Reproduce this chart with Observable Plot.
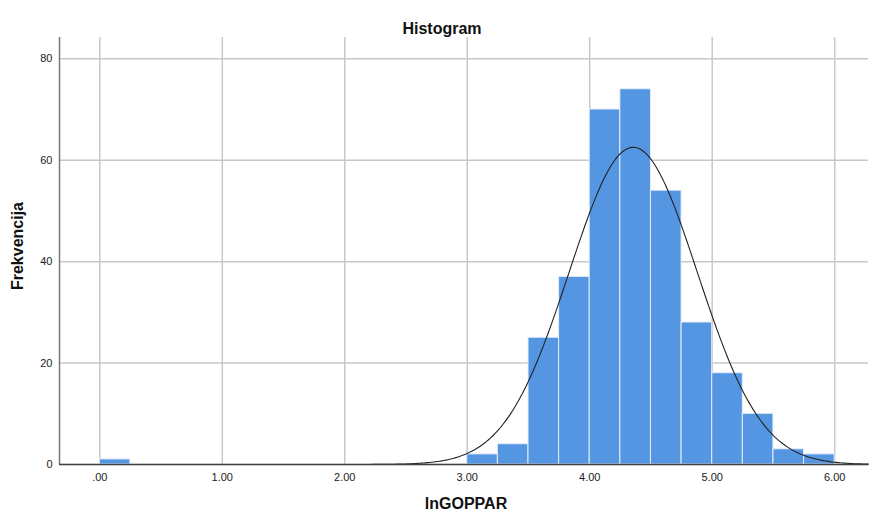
<!DOCTYPE html>
<html>
<head>
<meta charset="utf-8">
<script src="https://cdn.jsdelivr.net/npm/d3@7"></script>
<script src="https://cdn.jsdelivr.net/npm/@observablehq/plot@0.6"></script>
<style>
  html, body { margin: 0; padding: 0; background: #fff; }
  svg { display: block; }
</style>
</head>
<body>
<div id="chart"></div>
<script>
// Histogram bins (lower edge, upper edge, count)
const binStart = [0.00, 3.00, 3.25, 3.50, 3.75, 4.00, 4.25, 4.50, 4.75, 5.00, 5.25, 5.50, 5.75];
const binEnd   = [0.25, 3.25, 3.50, 3.75, 4.00, 4.25, 4.50, 4.75, 5.00, 5.25, 5.50, 5.75, 6.00];
const counts   = [1, 2, 4, 25, 37, 70, 74, 54, 28, 18, 10, 3, 2];

// Normal curve parameters (as shown by SPSS)
const mean = 4.355;
const sd = 0.523;
const binWidth = 0.25;

const xTicks = [0, 1, 2, 3, 4, 5, 6];
const xTickLabels = [".00", "1.00", "2.00", "3.00", "4.00", "5.00", "6.00"];
const yTicks = [0, 20, 40, 60, 80];

const bins = binStart.map((s, i) => ({x1: s, x2: binEnd[i], count: counts[i]}));
const N = d3.sum(counts);

const xMin = -0.329, xMax = 6.276;
const curve = d3.range(0, 401).map(i => {
  const x = xMin + (xMax - xMin) * i / 400;
  const z = (x - mean) / sd;
  return {x, y: N * binWidth * Math.exp(-0.5 * z * z) / (sd * Math.sqrt(2 * Math.PI))};
});

const font = "Liberation Sans, Arial, sans-serif";

const chart = Plot.plot({
  width: 869,
  height: 516,
  marginLeft: 59,
  marginRight: 1,
  marginTop: 37,
  marginBottom: 52,
  style: {fontFamily: font, fontSize: "11px", color: "#222", background: "#fff"},
  x: {domain: [xMin, xMax], label: null},
  y: {domain: [0, 84.2], label: null},
  marks: [
    Plot.gridX(xTicks, {stroke: "#c8c8c8", strokeOpacity: 1, strokeWidth: 1.5}),
    Plot.gridY(yTicks, {stroke: "#c8c8c8", strokeOpacity: 1, strokeWidth: 1.5}),
    Plot.rectY(bins, {x1: "x1", x2: "x2", y: "count", fill: "#5596e3", stroke: "#e6eefa", strokeWidth: 1}),
    Plot.line(curve, {x: "x", y: "y", stroke: "#222", strokeWidth: 1.1, curve: "linear"}),
    Plot.axisX(xTicks, {tickFormat: (d) => xTickLabels[xTicks.indexOf(d)], tickSize: 0, tickPadding: 9, fontSize: 11, fill: "#222", label: null}),
    Plot.axisY(yTicks, {tickSize: 0, tickPadding: 7, fontSize: 11, fill: "#222", label: null}),
    Plot.ruleX([xMin], {stroke: "#777", strokeWidth: 1.5}),
    Plot.ruleY([0], {stroke: "#444", strokeWidth: 1.5}),
    Plot.text(["Histogram"], {frameAnchor: "top", dx: -22, dy: -15, fontSize: 16, fontWeight: 600, fill: "#111"}),
    Plot.text(["lnGOPPAR"], {frameAnchor: "bottom", dx: 2, dy: 44, fontSize: 16, fontWeight: "bold", fill: "#111"}),
    Plot.text(["Frekvencija"], {frameAnchor: "left", textAnchor: "middle", dx: -42, dy: -5, rotate: -90, fontSize: 16, fontWeight: "bold", fill: "#111"})
  ]
});

document.getElementById("chart").appendChild(chart);
</script>
</body>
</html>
